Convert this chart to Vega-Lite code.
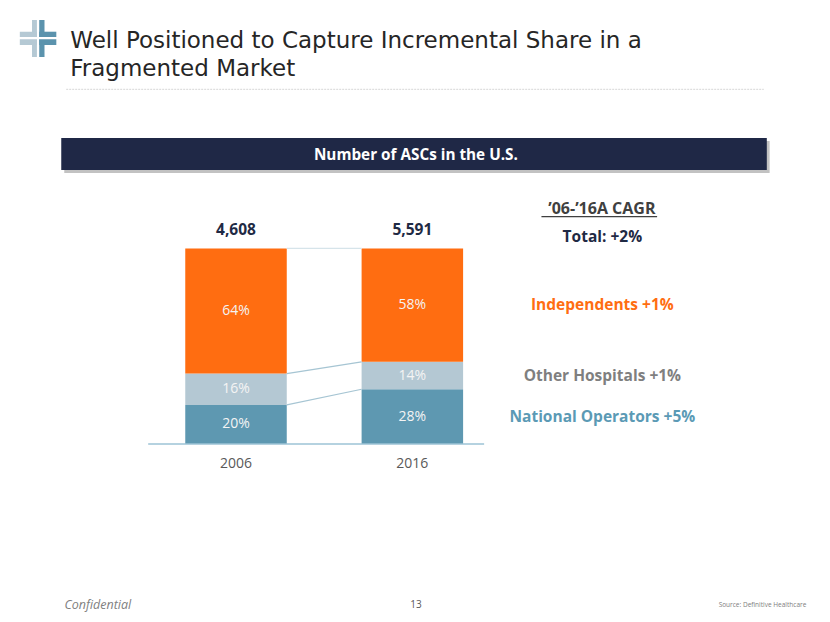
{
  "$schema": "https://vega.github.io/schema/vega-lite/v6.json",
  "width": 830,
  "height": 622,
  "autosize": "none",
  "padding": 0,
  "background": "white",
  "config": {"view": {"stroke": null}, "text": {"font": "Open Sans"}},
  "datasets": {
    "asc": [
      {"year": 2006, "segment": "National Operators", "share": 20},
      {"year": 2006, "segment": "Other Hospitals", "share": 16},
      {"year": 2006, "segment": "Independents", "share": 64},
      {"year": 2016, "segment": "National Operators", "share": 28},
      {"year": 2016, "segment": "Other Hospitals", "share": 14},
      {"year": 2016, "segment": "Independents", "share": 58}
    ],
    "totals": [
      {"year": 2006, "total": 4608},
      {"year": 2016, "total": 5591}
    ],
    "cagr": [
      {"segment": "Total", "cagr": 2},
      {"segment": "Independents", "cagr": 1},
      {"segment": "Other Hospitals", "cagr": 1},
      {"segment": "National Operators", "cagr": 5}
    ],
    "one": [{}]
  },
  "layer": [
    {
      "data": {"name": "asc"},
      "transform": [
        {"calculate": "indexof(['National Operators','Other Hospitals','Independents'], datum.segment)", "as": "ord"},
        {"stack": "share", "groupby": ["year"], "sort": [{"field": "ord", "order": "ascending"}], "as": ["y0", "y1"]}
      ],
      "mark": {"type": "bar", "size": 101.5},
      "encoding": {
        "x": {"field": "year", "type": "quantitative", "scale": {"domain": [1992.9, 2039.4], "nice": false, "zero": false}, "axis": null},
        "y": {"field": "y1", "type": "quantitative", "scale": {"domain": [-91, 227], "nice": false, "zero": false}, "axis": null},
        "y2": {"field": "y0"},
        "color": {"field": "segment", "type": "nominal", "scale": {"domain": ["Independents", "Other Hospitals", "National Operators"], "range": ["#ff6d11", "#b4c8d3", "#5e98b1"]}, "legend": null}
      }
    },
    {
      "data": {"name": "asc"},
      "transform": [
        {"calculate": "indexof(['National Operators','Other Hospitals','Independents'], datum.segment)", "as": "ord"},
        {"stack": "share", "groupby": ["year"], "sort": [{"field": "ord", "order": "ascending"}], "as": ["y0", "y1"]},
        {"calculate": "(datum.y0 + datum.y1) / 2", "as": "mid"},
        {"calculate": "datum.share + '%'", "as": "label"}
      ],
      "mark": {"type": "text", "fontSize": 14, "fill": "#f4f4f4", "baseline": "middle", "align": "center"},
      "encoding": {
        "x": {"field": "year", "type": "quantitative"},
        "y": {"field": "mid", "type": "quantitative"},
        "text": {"field": "label", "type": "nominal"}
      }
    },
    {
      "data": {"name": "asc"},
      "transform": [
        {"calculate": "indexof(['National Operators','Other Hospitals','Independents'], datum.segment)", "as": "ord"},
        {"stack": "share", "groupby": ["year"], "sort": [{"field": "ord", "order": "ascending"}], "as": ["y0", "y1"]},
        {"pivot": "year", "value": "y1", "groupby": ["segment"]}
      ],
      "mark": {"type": "rule", "strokeWidth": 1.2, "xOffset": 50.75, "x2Offset": -50.75},
      "encoding": {
        "x": {"datum": 2006},
        "x2": {"datum": 2016},
        "y": {"field": "2006", "type": "quantitative"},
        "y2": {"field": "2016"},
        "stroke": {"field": "segment", "type": "nominal", "scale": {"domain": ["Independents", "Other Hospitals", "National Operators"], "range": ["#d6e4ea", "#a6c5d3", "#a6c5d3"]}, "legend": null}
      }
    },
    {
      "data": {"name": "one"},
      "mark": {"type": "rule", "stroke": "#9dc3d6", "strokeWidth": 1.5},
      "encoding": {
        "x": {"datum": 2001.02},
        "x2": {"datum": 2020.07},
        "y": {"datum": 0}
      }
    },
    {
      "data": {"name": "totals"},
      "mark": {"type": "text", "fontSize": 15.5, "fontWeight": "bold", "fill": "#1f2a44", "baseline": "middle", "dy": -18},
      "encoding": {
        "x": {"field": "year", "type": "quantitative"},
        "y": {"datum": 100},
        "text": {"field": "total", "type": "quantitative", "format": ","}
      }
    },
    {
      "data": {"name": "totals"},
      "mark": {"type": "text", "fontSize": 14, "fill": "#595959", "baseline": "middle", "dy": 20},
      "encoding": {
        "x": {"field": "year", "type": "quantitative"},
        "y": {"datum": 0},
        "text": {"field": "year", "type": "nominal"}
      }
    },
    {
      "data": {"name": "asc"},
      "transform": [
        {"calculate": "indexof(['National Operators','Other Hospitals','Independents'], datum.segment)", "as": "ord"},
        {"stack": "share", "groupby": ["year"], "sort": [{"field": "ord", "order": "ascending"}], "as": ["y0", "y1"]},
        {"calculate": "(datum.y0 + datum.y1) / 2", "as": "mid"},
        {"filter": "datum.year == 2016"},
        {"lookup": "segment", "from": {"data": {"name": "cagr"}, "key": "segment", "fields": ["cagr"]}},
        {"calculate": "datum.segment + ' +' + datum.cagr + '%'", "as": "label"}
      ],
      "mark": {"type": "text", "fontSize": 15.5, "fontWeight": "bold", "baseline": "middle", "align": "center", "dx": 190},
      "encoding": {
        "x": {"field": "year", "type": "quantitative"},
        "y": {"field": "mid", "type": "quantitative"},
        "text": {"field": "label", "type": "nominal"},
        "fill": {"field": "segment", "type": "nominal", "scale": {"domain": ["Independents", "Other Hospitals", "National Operators"], "range": ["#ff6d11", "#7f7f7f", "#5b9ab5"]}, "legend": null}
      }
    },
    {
      "data": {"name": "cagr"},
      "transform": [
        {"filter": "datum.segment == 'Total'"},
        {"calculate": "'Total: +' + datum.cagr + '%'", "as": "label"}
      ],
      "mark": {"type": "text", "fontSize": 15.5, "fontWeight": "bold", "fill": "#1f2a44", "baseline": "middle", "align": "center", "dx": 190, "dy": -11},
      "encoding": {
        "x": {"datum": 2016},
        "y": {"datum": 100},
        "text": {"field": "label", "type": "nominal"}
      }
    },
    {
      "data": {"name": "one"},
      "mark": {"type": "text", "text": "’06-’16A CAGR", "fontSize": 16, "fontWeight": "bold", "fill": "#404040", "baseline": "middle", "align": "center", "dx": 189.5, "dy": -39.5},
      "encoding": {
        "x": {"datum": 2016},
        "y": {"datum": 100}
      }
    },
    {
      "data": {"name": "one"},
      "mark": {"type": "rule", "stroke": "#404040", "strokeWidth": 1.3},
      "encoding": {
        "x": {"datum": 2023.32},
        "x2": {"datum": 2029.88},
        "y": {"datum": 116.21}
      }
    },
    {
      "data": {"name": "one"},
      "mark": {"type": "text", "text": ["Well Positioned to Capture Incremental Share in a", "Fragmented Market"], "font": "DejaVu Sans", "fontSize": 23, "fill": "#262626", "baseline": "alphabetic", "align": "left", "lineHeight": 28.3},
      "encoding": {
        "x": {"datum": 1996.6},
        "y": {"datum": 202.46}
      }
    },
    {
      "data": {"name": "one"},
      "mark": {"type": "rule", "stroke": "#d6d6d6", "strokeWidth": 1, "strokeDash": [2, 1]},
      "encoding": {
        "x": {"datum": 1996.37},
        "x2": {"datum": 2035.93},
        "y": {"datum": 181.34}
      }
    },
    {
      "data": {"name": "one"},
      "mark": {"type": "rect", "fill": "#9a9a9a", "opacity": 0.6},
      "encoding": {
        "x": {"datum": 1996.26},
        "x2": {"datum": 2036.26},
        "y": {"datum": 154.91},
        "y2": {"datum": 138.55}
      }
    },
    {
      "data": {"name": "one"},
      "mark": {"type": "rect", "fill": "#1f2846"},
      "encoding": {
        "x": {"datum": 1996.09},
        "x2": {"datum": 2036.1},
        "y": {"datum": 156.45},
        "y2": {"datum": 140.08}
      }
    },
    {
      "data": {"name": "one"},
      "mark": {"type": "text", "text": "Number of ASCs in the U.S.", "fontSize": 15.3, "fontWeight": "bold", "fill": "#ffffff", "baseline": "middle", "align": "center"},
      "encoding": {
        "x": {"datum": 2016.2},
        "y": {"datum": 147.75}
      }
    },
    {
      "data": {"name": "one"},
      "mark": {"type": "rect", "fill": "#b5c9d4"},
      "encoding": {
        "x": {"datum": 1994.43},
        "x2": {"datum": 1994.71},
        "y": {"datum": 216.77},
        "y2": {"datum": 197.86}
      }
    },
    {
      "data": {"name": "one"},
      "mark": {"type": "rect", "fill": "#b5c9d4"},
      "encoding": {
        "x": {"datum": 1993.74},
        "x2": {"datum": 1994.71},
        "y": {"datum": 210.79},
        "y2": {"datum": 203.99}
      }
    },
    {
      "data": {"name": "one"},
      "mark": {"type": "rect", "fill": "#5b93ad"},
      "encoding": {
        "x": {"datum": 1994.84},
        "x2": {"datum": 1995.14},
        "y": {"datum": 216.77},
        "y2": {"datum": 197.86}
      }
    },
    {
      "data": {"name": "one"},
      "mark": {"type": "rect", "fill": "#5b93ad"},
      "encoding": {
        "x": {"datum": 1994.84},
        "x2": {"datum": 1995.81},
        "y": {"datum": 210.79},
        "y2": {"datum": 203.99}
      }
    },
    {
      "data": {"name": "one"},
      "mark": {"type": "rect", "fill": "#ffffff"},
      "encoding": {
        "x": {"datum": 1993.7},
        "x2": {"datum": 1995.85},
        "y": {"datum": 208.08},
        "y2": {"datum": 206.91}
      }
    },
    {
      "data": {"name": "one"},
      "mark": {"type": "text", "text": "Confidential", "fontSize": 12.5, "fontStyle": "italic", "fill": "#808080", "baseline": "middle", "align": "left"},
      "encoding": {
        "x": {"datum": 1996.27},
        "y": {"datum": -82.31}
      }
    },
    {
      "data": {"name": "one"},
      "mark": {"type": "text", "text": "13", "fontSize": 10, "fill": "#595959", "baseline": "middle", "align": "center"},
      "encoding": {
        "x": {"datum": 2016.21},
        "y": {"datum": -82.31}
      }
    },
    {
      "data": {"name": "one"},
      "mark": {"type": "text", "text": "Source: Definitive Healthcare", "fontSize": 6.5, "fill": "#808080", "baseline": "middle", "align": "right"},
      "encoding": {
        "x": {"datum": 2038.34},
        "y": {"datum": -82.31}
      }
    }
  ]
}
